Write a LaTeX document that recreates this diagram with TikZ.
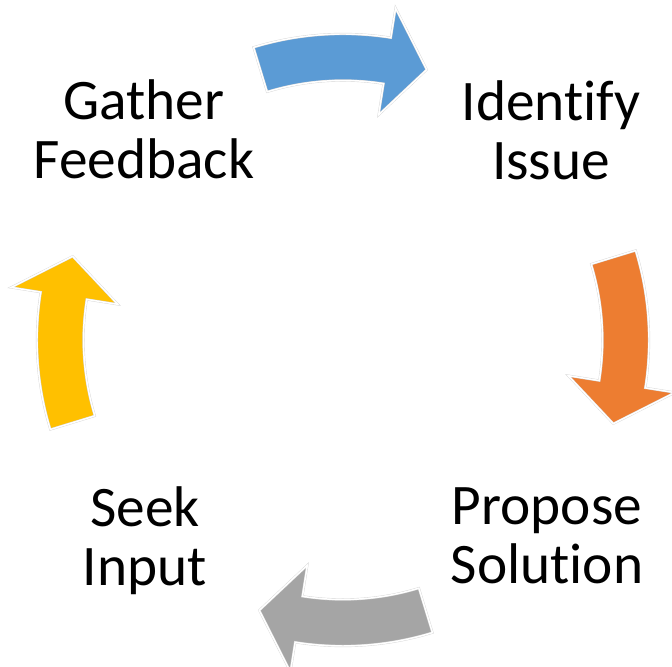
\documentclass[tikz,border=0pt]{standalone}
\usepackage{fontspec}
\setmainfont{Carlito}[Ligatures=CommonOff]
\usepackage{tikz}

\definecolor{cycblue}{HTML}{5B9BD5}
\definecolor{cycorange}{HTML}{ED7D31}
\definecolor{cycgray}{HTML}{A5A5A5}
\definecolor{cycgold}{HTML}{FFC000}

\tikzset{
  steplabel/.style={align=center, inner sep=0pt, font=\fontsize{43}{44}\selectfont},
  cyclearrow/.style={draw=black!16, line width=0.3pt, double=white, double distance=1.1pt, line join=miter}
}

\begin{document}
\begin{tikzpicture}[x=0.75pt, y=0.75pt]
  \useasboundingbox (0,0) rectangle (672,667);
  % the four bent arrows, clockwise round the centre (343,327)
  \filldraw[cyclearrow, fill=cycblue, shift={(343,327)}] (107:306) arc[start angle=107, end angle=81, radius=306] -- (81:336) -- (72.8:283) -- (81:228) -- (81:259.5) arc[start angle=81, end angle=107, radius=259.5] -- cycle;
  \filldraw[cyclearrow, fill=cycorange, shift={(343,327)}] (17:306) arc[start angle=17, end angle=-9, radius=306] -- (-9:336) -- (-17.2:283) -- (-9:228) -- (-9:259.5) arc[start angle=-9, end angle=17, radius=259.5] -- cycle;
  \filldraw[cyclearrow, fill=cycgray, shift={(343,327)}] (-73:306) arc[start angle=-73, end angle=-99, radius=306] -- (-99:336) -- (-107.2:283) -- (-99:228) -- (-99:259.5) arc[start angle=-99, end angle=-73, radius=259.5] -- cycle;
  \filldraw[cyclearrow, fill=cycgold, shift={(343,327)}] (197:306) arc[start angle=197, end angle=171, radius=306] -- (171:336) -- (162.8:283) -- (171:228) -- (171:259.5) arc[start angle=171, end angle=197, radius=259.5] -- cycle;
  % step names
  \node[steplabel] (gather) at (144,537.5) {Gather\\Feedback};
  \node[steplabel] (identify) at (551,537) {Identify\\Issue};
  \node[steplabel] (propose) at (547,131.5) {Propose\\Solution};
  \node[steplabel] (seek) at (145,126.5) {Seek\\Input};
\end{tikzpicture}
\end{document}
